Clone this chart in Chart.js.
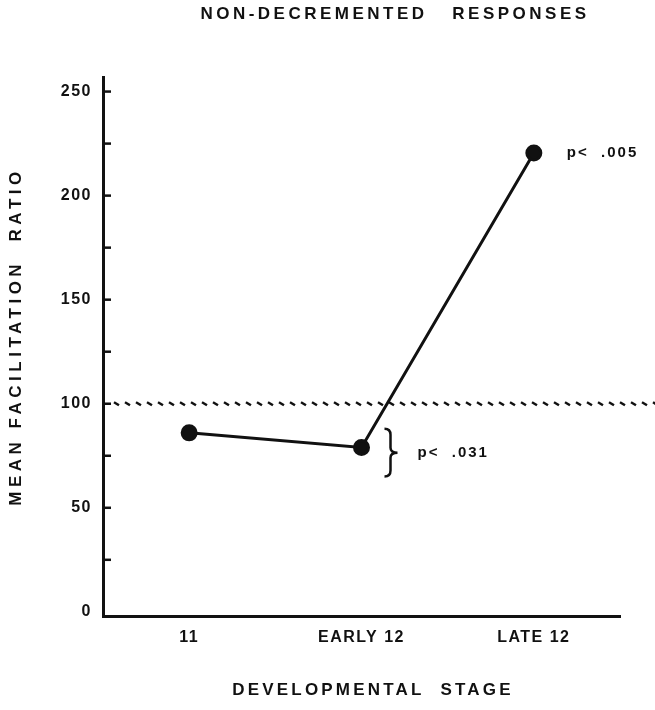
<!DOCTYPE html>
<html>
<head>
<meta charset="utf-8">
<script src="https://cdn.jsdelivr.net/npm/chart.js@4/dist/chart.umd.min.js"></script>
<style>
  html, body { margin: 0; padding: 0; background: #fff; }
  #wrap { width: 655px; height: 710px; }
</style>
</head>
<body>
<div id="wrap"><canvas id="stageChart"></canvas></div>
<script>
/* ---- data ---- */
var stages       = ['11', 'EARLY 12', 'LATE 12'];
var facilitation = [86, 79, 220.5];
var baseline     = 100;
var braceRange   = [88, 65];
var pNotes       = ['p<  .031', 'p<  .005'];

var INK  = '#111';
var FONT = '"Liberation Sans", Arial, Helvetica, sans-serif';

function spacedText(ctx, text, x, y, size, spacing, align) {
  ctx.save();
  ctx.font = 'bold ' + size + 'px ' + FONT;
  ctx.letterSpacing = spacing + 'px';
  ctx.fillStyle = INK;
  ctx.textAlign = align || 'center';
  ctx.textBaseline = 'middle';
  ctx.fillText(text, x, y);
  ctx.restore();
}

var decorPlugin = {
  id: 'decor',
  beforeUpdate: function (chart) { chart.ctx.letterSpacing = '1.5px'; },
  beforeDraw: function (chart) { chart.ctx.letterSpacing = '1.5px'; },

  beforeDatasetsDraw: function (chart) {
    var ctx = chart.ctx, y = chart.scales.y, area = chart.chartArea;
    ctx.save();
    ctx.strokeStyle = INK;

    /* inward tick marks on the y axis */
    ctx.lineWidth = 2.5;
    y.ticks.forEach(function (t) {
      if (t.value === 0) return;
      var py = y.getPixelForValue(t.value);
      ctx.beginPath();
      ctx.moveTo(area.left, py);
      ctx.lineTo(area.left + 8, py);
      ctx.stroke();
    });

    /* dashed reference line at 100 */
    var by = y.getPixelForValue(baseline);
    ctx.lineWidth = 2.5;
    for (var x = area.left + 11; x < chart.width; x += 11) {
      ctx.beginPath();
      ctx.moveTo(x, by - 1.5);
      ctx.lineTo(x + 5, by + 1.5);
      ctx.stroke();
    }
    ctx.restore();
  },

  afterDatasetsDraw: function (chart) {
    var ctx = chart.ctx, xs = chart.scales.x, ys = chart.scales.y, area = chart.chartArea;

    /* brace next to EARLY 12 */
    var x0 = xs.getPixelForValue(1) + 23;
    var top = ys.getPixelForValue(braceRange[0]);
    var bot = ys.getPixelForValue(braceRange[1]);
    var mid = (top + bot) / 2;
    ctx.save();
    ctx.strokeStyle = INK;
    ctx.lineWidth = 2.5;
    ctx.beginPath();
    ctx.moveTo(x0, top);
    ctx.quadraticCurveTo(x0 + 6, top, x0 + 6, top + 6);
    ctx.lineTo(x0 + 6, mid - 5);
    ctx.quadraticCurveTo(x0 + 6, mid, x0 + 13, mid);
    ctx.quadraticCurveTo(x0 + 6, mid, x0 + 6, mid + 5);
    ctx.lineTo(x0 + 6, bot - 6);
    ctx.quadraticCurveTo(x0 + 6, bot, x0, bot);
    ctx.stroke();
    ctx.restore();

    spacedText(ctx, pNotes[0], xs.getPixelForValue(1) + 56, mid, 15, 2, 'left');
    spacedText(ctx, pNotes[1], xs.getPixelForValue(2) + 33,
               ys.getPixelForValue(facilitation[2]), 15, 2, 'left');

    /* titles */
    spacedText(ctx, 'NON-DECREMENTED   RESPONSES', 395, 14, 17, 3.5);
    spacedText(ctx, 'DEVELOPMENTAL  STAGE', 373, 690, 17, 3.2);

    ctx.save();
    ctx.translate(16, (area.top + area.bottom) / 2 - 10);
    ctx.rotate(-Math.PI / 2);
    spacedText(ctx, 'MEAN FACILITATION  RATIO', 0, 0, 17, 4.5);
    ctx.restore();
  }
};

new Chart(document.getElementById('stageChart'), {
  type: 'line',
  data: {
    labels: stages,
    datasets: [{
      data: facilitation,
      borderColor: INK,
      backgroundColor: INK,
      borderWidth: 3,
      pointRadius: 7,
      pointHoverRadius: 7,
      tension: 0,
      clip: false
    }]
  },
  options: {
    responsive: true,
    maintainAspectRatio: false,
    animation: false,
    layout: { padding: { top: 77, right: 35, bottom: 0, left: 30 } },
    plugins: {
      legend: { display: false },
      tooltip: { enabled: false },
      title: { display: false }
    },
    scales: {
      x: {
        offset: true,
        grid: { display: false, drawTicks: false },
        border: { display: true, color: INK, width: 3 },
        ticks: {
          color: INK,
          font: { family: FONT, size: 16, weight: 'bold' },
          padding: 12,
          autoSkip: false,
          maxRotation: 0
        },
        afterFit: function (scale) { scale.height = 94; }
      },
      y: {
        min: -2,
        max: 257,
        grid: { display: false, drawTicks: false },
        border: { display: true, color: INK, width: 3 },
        ticks: {
          stepSize: 25,
          includeBounds: false,
          color: INK,
          font: { family: FONT, size: 16, weight: 'bold' },
          padding: 11,
          callback: function (v) { return v % 50 === 0 ? v : ''; }
        },
        afterFit: function (scale) { scale.width = 73; }
      }
    }
  },
  plugins: [decorPlugin]
});
</script>
</body>
</html>
